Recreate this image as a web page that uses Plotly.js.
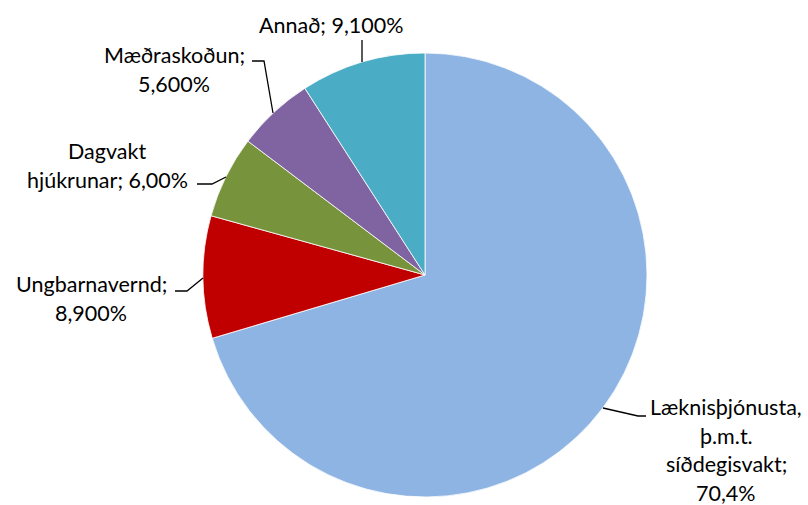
<!DOCTYPE html>
<html><head><meta charset="utf-8">
<script src="https://cdn.plot.ly/plotly-3.0.1.min.js"></script>
<style>html,body{margin:0;padding:0;background:#fff}#chart{width:808px;height:505px}</style>
</head><body><div id="chart"></div>
<script>
var categories = ['Læknisþjónusta, þ.m.t. síðdegisvakt', 'Ungbarnavernd', 'Dagvakt hjúkrunar', 'Mæðraskoðun', 'Annað'];
var values = [70.4, 8.9, 6.0, 5.6, 9.1];
var colors = ['#8EB4E3', '#C00000', '#77933C', '#8064A2', '#4BACC6'];
var labelLines = [
  ['Læknisþjónusta,', 'þ.m.t.', 'síðdegisvakt;', '70,4%'],
  ['Ungbarnavernd;', '8,900%'],
  ['Dagvakt', 'hjúkrunar; 6,00%'],
  ['Mæðraskoðun;', '5,600%'],
  ['Annað; 9,100%']
];
// label block anchor (center x, first-line y) in pixels
var labelPos = [[726, 407], [91, 284], [107, 151], [174, 55], [331, 25]];
var leaders = [
  'M603,408 L638,416 L646,416',
  'M175,291 L187,291 L203,278',
  'M197,184 L212,184 L226,177',
  'M252,61 L264,61 L273,113',
  'M362,40 L362,62'
];
var W = 808, H = 505, LH = 28.5;
var ann = [];
labelLines.forEach(function(lines, i){
  lines.forEach(function(t, j){
    ann.push({text: t, xref: 'paper', yref: 'paper', x: labelPos[i][0]/W, y: 1 - (labelPos[i][1] + j*LH)/H,
      xanchor: 'center', yanchor: 'middle', showarrow: false,
      font: {family: 'Lato, sans-serif', size: 21.5, color: '#000'}});
  });
});
var shapes = leaders.map(function(p){
  return {type: 'path', xref: 'paper', yref: 'paper', path: p.replace(/([0-9.]+),([0-9.]+)/g, function(m, a, b){ return (a/W) + ',' + (1 - b/H); }),
    line: {color: '#000', width: 1.3}};
});
var trace = {
  type: 'pie', labels: categories, values: values, sort: false, direction: 'clockwise', rotation: 0,
  marker: {colors: colors, line: {color: '#ffffff', width: 0.8}},
  textinfo: 'none', hoverinfo: 'label+percent',
  domain: {x: [203/W, 647/W], y: [1 - 497/H, 1 - 53/H]}
};
var layout = {width: W, height: H, margin: {l: 0, r: 0, t: 0, b: 0}, showlegend: false,
  paper_bgcolor: '#fff', annotations: ann, shapes: shapes};
Plotly.newPlot('chart', [trace], layout, {displayModeBar: false, staticPlot: true});
</script></body></html>
